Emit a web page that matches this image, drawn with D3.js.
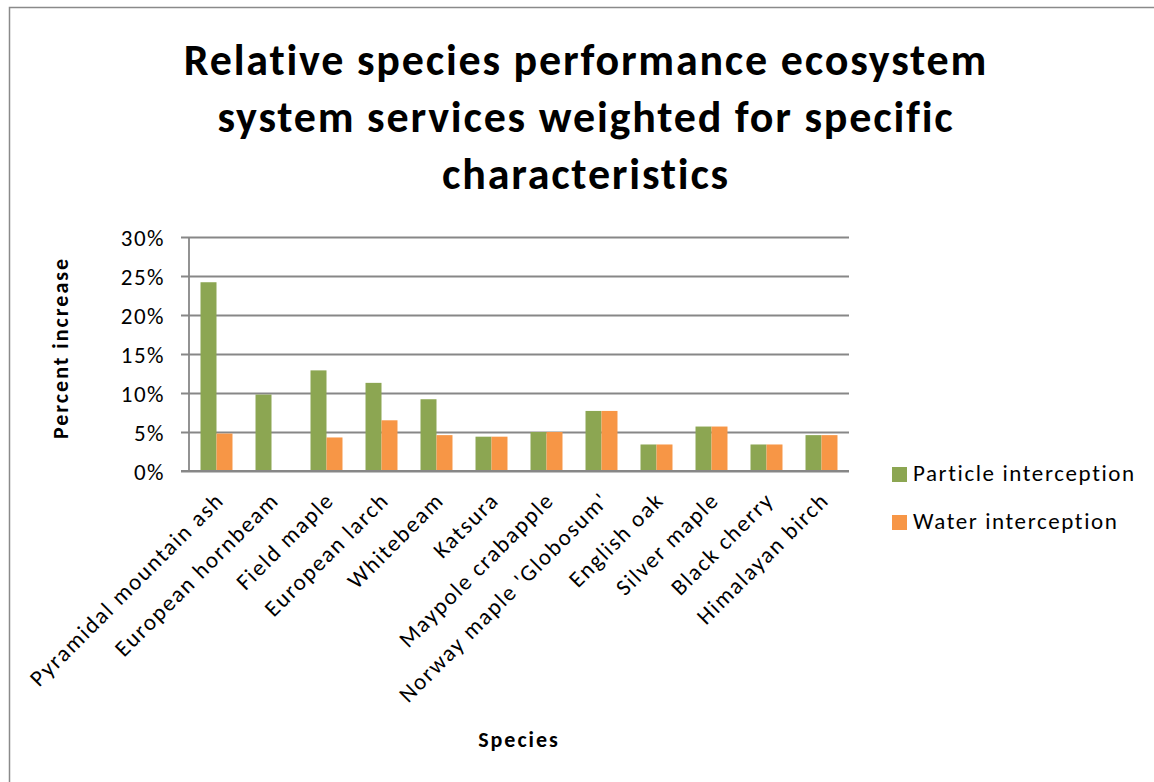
<!DOCTYPE html>
<html>
<head>
<meta charset="utf-8">
<script src="https://cdn.jsdelivr.net/npm/d3@7"></script>
<style>
  html, body { margin: 0; padding: 0; background: #fff; }
  svg { display: block; font-family: Carlito, Calibri, "Open Sans", sans-serif; }
</style>
</head>
<body>
<svg id="chart" width="1154" height="782"></svg>
<script>
// Species along the category axis
const species = [
  "Pyramidal mountain ash", "European hornbeam", "Field maple", "European larch",
  "Whitebeam", "Katsura", "Maypole crabapple", "Norway maple 'Globosum'",
  "English oak", "Silver maple", "Black cherry", "Himalayan birch"
];

// Series names and values (fraction of increase)
const seriesNames = ["Particle interception", "Water interception"];
const particleInterception = [0.242, 0.098, 0.129, 0.113, 0.092, 0.044, 0.050, 0.077, 0.034, 0.057, 0.034, 0.046];
const waterInterception    = [0.048, 0.000, 0.043, 0.065, 0.046, 0.044, 0.050, 0.077, 0.034, 0.057, 0.034, 0.046];

// Value axis ticks
const yTicks = [0, 0.05, 0.10, 0.15, 0.20, 0.25, 0.30];

const titleLines = [
  "Relative species performance ecosystem",
  "system services weighted for specific",
  "characteristics"
];

const colors = ["#8CA652", "#F79646"];

const svg = d3.select("#chart");

// Outer chart frame
svg.append("path")
  .attr("d", "M9.5,782 V7.5 H1154")
  .attr("fill", "none")
  .attr("stroke", "#8a8a8a")
  .attr("stroke-width", 1.5);

const plot = { left: 189, right: 849, top: 237, bottom: 471 };

const x0 = d3.scaleBand()
  .domain(species)
  .range([plot.left, plot.right])
  .padding(0);

const x1 = d3.scaleBand()
  .domain(seriesNames)
  .range([0, x0.bandwidth()])
  .paddingInner(0)
  .paddingOuter(0.72);

const y = d3.scaleLinear()
  .domain([0, 0.30])
  .range([plot.bottom, plot.top]);

// Gridlines with outside tick marks
const yAxis = d3.axisLeft(y)
  .tickValues(yTicks)
  .tickFormat(d3.format(".0%"))
  .tickSize(-(plot.right - plot.left))
  .tickPadding(24);

const gy = svg.append("g")
  .attr("transform", `translate(${plot.left},0)`)
  .call(yAxis);

gy.select(".domain").remove();
gy.selectAll(".tick line")
  .attr("x1", -8)
  .attr("stroke", "#878787")
  .attr("stroke-width", 1.8);
gy.selectAll(".tick text")
  .attr("fill", "#000")
  .attr("font-size", 23)
  .attr("letter-spacing", 1.5)
  .attr("font-family", "Carlito, Calibri, 'Open Sans', sans-serif")
  .attr("dy", "0.35em");

// Vertical value axis line
svg.append("line")
  .attr("x1", plot.left).attr("x2", plot.left)
  .attr("y1", plot.top).attr("y2", plot.bottom)
  .attr("stroke", "#878787")
  .attr("stroke-width", 1.8);

// Bars
const rows = species.map((s, i) => ({
  species: s,
  values: [
    { key: seriesNames[0], v: particleInterception[i] },
    { key: seriesNames[1], v: waterInterception[i] }
  ]
}));

const groups = svg.append("g").selectAll("g")
  .data(rows)
  .join("g")
  .attr("transform", d => `translate(${x0(d.species)},0)`);

groups.selectAll("rect")
  .data(d => d.values)
  .join("rect")
  .attr("x", d => x1(d.key))
  .attr("width", x1.bandwidth())
  .attr("y", d => y(d.v))
  .attr("height", d => y(0) - y(d.v))
  .attr("fill", (d, i) => colors[i]);

// Category axis line drawn over bar bottoms
svg.append("line")
  .attr("x1", plot.left - 8).attr("x2", plot.right)
  .attr("y1", plot.bottom).attr("y2", plot.bottom)
  .attr("stroke", "#878787")
  .attr("stroke-width", 1.8);

// Rotated category labels
svg.append("g").selectAll("text")
  .data(species)
  .join("text")
  .attr("transform", d => `translate(${x0(d) + x0.bandwidth() / 2 + 3},${plot.bottom + 25}) rotate(-45)`)
  .attr("text-anchor", "end")
  .attr("dy", "0.35em")
  .attr("font-size", 23)
  .attr("letter-spacing", 1.7)
  .attr("fill", "#000")
  .text(d => d);

// Title
svg.append("g").selectAll("text")
  .data(titleLines)
  .join("text")
  .attr("x", 586)
  .attr("y", (d, i) => 75 + i * 57)
  .attr("text-anchor", "middle")
  .attr("font-size", 44)
  .attr("letter-spacing", 1.8)
  .attr("font-weight", "bold")
  .attr("fill", "#000")
  .text(d => d);

// Axis titles
svg.append("text")
  .attr("transform", `translate(68,${(plot.top + plot.bottom) / 2 - 6}) rotate(-90)`)
  .attr("text-anchor", "middle")
  .attr("font-size", 22)
  .attr("letter-spacing", 2)
  .attr("font-weight", "bold")
  .attr("fill", "#000")
  .text("Percent increase");

svg.append("text")
  .attr("x", (plot.left + plot.right) / 2)
  .attr("y", 747)
  .attr("text-anchor", "middle")
  .attr("font-size", 22)
  .attr("letter-spacing", 2)
  .attr("font-weight", "bold")
  .attr("fill", "#000")
  .text("Species");

// Legend
const legend = svg.append("g").selectAll("g")
  .data(seriesNames)
  .join("g")
  .attr("transform", (d, i) => `translate(892,${467 + i * 48})`);

legend.append("rect")
  .attr("width", 15)
  .attr("height", 15)
  .attr("fill", (d, i) => colors[i]);

legend.append("text")
  .attr("x", 21)
  .attr("y", 14)
  .attr("font-size", 23)
  .attr("letter-spacing", 1.6)
  .attr("fill", "#000")
  .text(d => d);
</script>
</body>
</html>
